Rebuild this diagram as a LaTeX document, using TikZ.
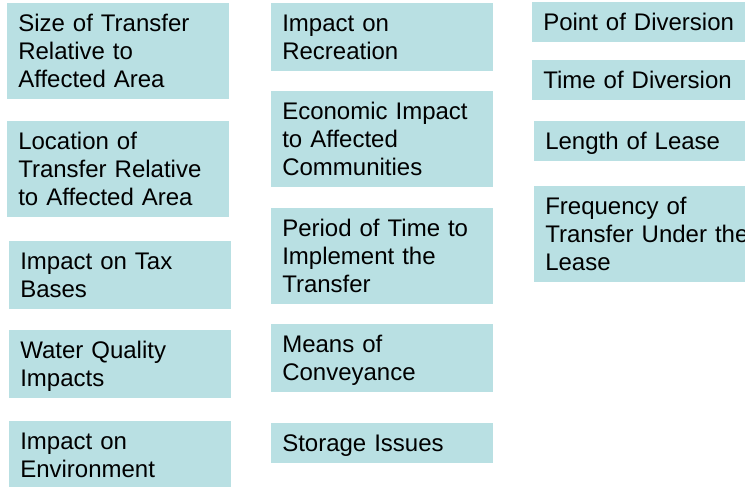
\documentclass[tikz,border=0pt]{standalone}
\usepackage{fontspec}
\setmainfont{Liberation Sans}
\definecolor{boxfill}{RGB}{185,224,227}
% one unbreakable text line in a fixed 21pt slot
\newcommand\row[1]{\mbox{\rule[-4pt]{0pt}{21pt}#1}}
\begin{document}
\begin{tikzpicture}[x=0.75pt,y=-0.75pt,
  item/.style={rectangle, fill=boxfill, anchor=north west, align=left,
    text width=150pt, minimum width=166.5pt, inner xsep=8.25pt, inner ysep=4.5pt,
    font=\fontsize{18}{21}\selectfont}]
\useasboundingbox (0,0) rectangle (745,486);
\clip (0,0) rectangle (745,486);
% first column
\node[item] (size) at (7,3) {\row{Size of Transfer}\\\row{Relative to}\\\row{Affected Area}};
\node[item] (loc) at (7,121) {\row{Location of}\\\row{Transfer Relative}\\\row{to Affected Area}};
\node[item] (tax) at (9,241) {\row{Impact on Tax}\\\row{Bases}};
\node[item] (qual) at (9,330) {\row{Water Quality}\\\row{Impacts}};
\node[item] (env) at (9,421) {\row{Impact on}\\\row{Environment}};
% second column
\node[item] (rec) at (271,3) {\row{Impact on}\\\row{Recreation}};
\node[item] (econ) at (271,91) {\row{Economic Impact}\\\row{to Affected}\\\row{Communities}};
\node[item] (period) at (271,208) {\row{Period of Time to}\\\row{Implement the}\\\row{Transfer}};
\node[item] (means) at (271,324) {\row{Means of}\\\row{Conveyance}};
\node[item] (stor) at (271,423) {\row{Storage Issues}};
% third column
\node[item] (point) at (532,2) {\row{Point of Diversion}};
\node[item] (time) at (532,60) {\row{Time of Diversion}};
\node[item] (lease) at (534,121) {\row{Length of Lease}};
\node[item] (freq) at (534,186) {\row{Frequency of}\\\row{Transfer Under the}\\\row{Lease}};
\end{tikzpicture}
\end{document}
